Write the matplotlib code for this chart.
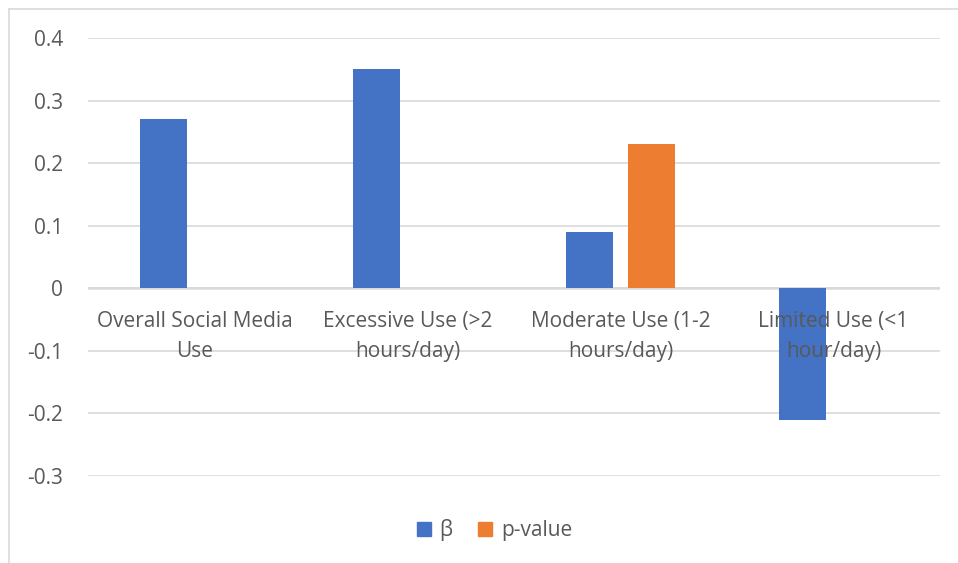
import numpy as np
import matplotlib.pyplot as plt
from matplotlib.lines import Line2D

categories = [
    "Overall Social Media\nUse",
    "Excessive Use (>2\nhours/day)",
    "Moderate Use (1-2\nhours/day)",
    "Limited Use (<1\nhour/day)",
]
beta = [0.27, 0.35, 0.09, -0.21]
p_value = [np.nan, np.nan, 0.23, np.nan]

BLUE = "#4472c4"
ORANGE = "#ed7d31"
GRID = "#d9d9d9"
TEXT = "#595959"
FS = 15

plt.rcParams["font.family"] = ["Open Sans", "DejaVu Sans"]

fig = plt.figure(figsize=(9.58, 5.63), dpi=100)
ax = fig.add_axes([88 / 958, 1 - 476 / 563, (940 - 88) / 958, (476 - 38) / 563])

x = np.arange(len(categories))
width = 0.22
offset = 0.147
ax.bar(x - offset, beta, width, color=BLUE, zorder=3)
ax.bar(x + offset, p_value, width, color=ORANGE, zorder=3)

ax.set_xlim(-0.5, len(categories) - 0.5)
ax.set_ylim(-0.3, 0.4)
ax.set_yticks(np.arange(-0.3, 0.41, 0.1))
ax.set_yticklabels(["-0.3", "-0.2", "-0.1", "0", "0.1", "0.2", "0.3", "0.4"])
ax.yaxis.grid(True, color=GRID, linewidth=1.2, zorder=0)
ax.axhline(0, color=GRID, linewidth=1.8, zorder=2)
ax.set_xticks([])
for s in ax.spines.values():
    s.set_visible(False)
ax.tick_params(axis="y", length=0, pad=18, labelsize=FS, labelcolor=TEXT)

# category labels sit just under the zero line, like an axis at y=0
for xi, lab in zip(x, categories):
    ax.text(xi, -0.036, lab, ha="center", va="top", fontsize=FS,
            color=TEXT, linespacing=1.55, zorder=4)

# square legend keys
handles = [
    Line2D([], [], linestyle="none", marker="s", markersize=10,
           markerfacecolor=c, markeredgecolor=c)
    for c in (BLUE, ORANGE)
]
ax.legend(handles, ["β", "p-value"], loc="upper center",
          bbox_to_anchor=(0.477, -0.055), ncol=2, frameon=False,
          fontsize=FS, labelcolor=TEXT, handlelength=0.7,
          handletextpad=0.4, columnspacing=1.2)

# outer chart frame (top and left edges)
fig.add_artist(Line2D([9 / 958, 9 / 958], [0, 1 - 9 / 563], color=GRID,
                      linewidth=1.2, transform=fig.transFigure))
fig.add_artist(Line2D([9 / 958, 1], [1 - 9 / 563, 1 - 9 / 563], color=GRID,
                      linewidth=1.2, transform=fig.transFigure))

fig.savefig("out.png", dpi=100)
